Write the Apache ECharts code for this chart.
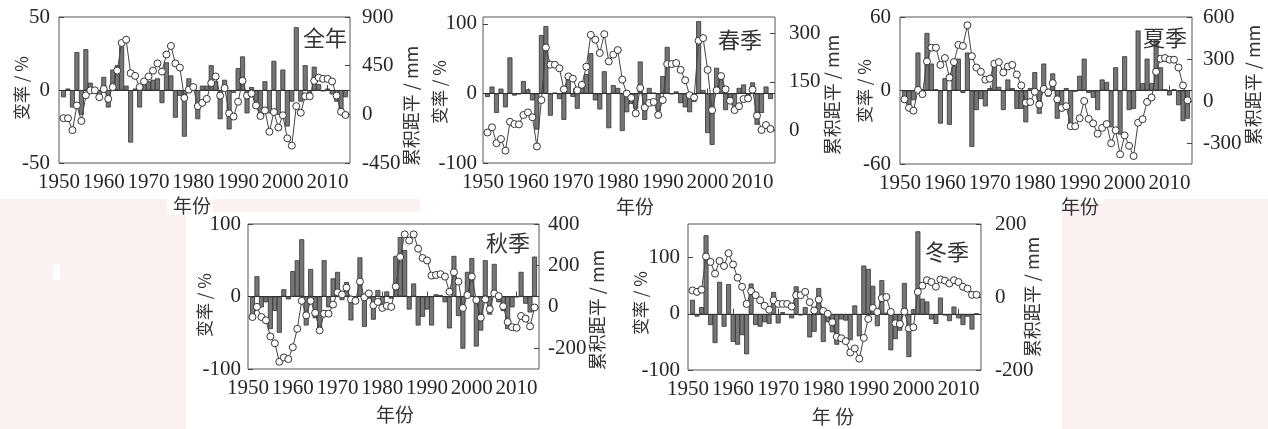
<!DOCTYPE html>
<html><head><meta charset="utf-8">
<script src="https://cdn.jsdelivr.net/npm/echarts@6/dist/echarts.min.js"></script>
<style>html,body{margin:0;padding:0;background:#fff}#c{width:1268px;height:429px}</style>
</head><body><div id="c"></div>
<script>
const years = [1951,1952,1953,1954,1955,1956,1957,1958,1959,1960,
1961,1962,1963,1964,1965,1966,1967,1968,1969,1970,
1971,1972,1973,1974,1975,1976,1977,1978,1979,1980,
1981,1982,1983,1984,1985,1986,1987,1988,1989,1990,
1991,1992,1993,1994,1995,1996,1997,1998,1999,2000,
2001,2002,2003,2004,2005,2006,2007,2008,2009,2010,
2011,2012,2013,2014];
const yearTicks = [1950,1960,1970,1980,1990,2000,2010];

// 全年
const annualRate = [-5,1,-12,26,-17,28,5,-2,-4,9,
 -12,14,17,30,3,-36,1,-12,5,6,
 7,8,-9,19,10,-19,-4,-32,8,2,
 -20,3,3,17,6,-20,7,-27,-2,15,
 23,-16,2,-8,-18,6,-16,20,-17,14,
 -25,-8,43,-8,17,-2,16,4,-1,1,
 -3,-8,-15,-5];
const annualCum = [-36,-36,-146,82,-61,176,222,222,158,234,
 143,252,404,660,690,380,356,252,304,350,
 404,471,395,553,632,471,432,152,228,252,
 76,106,143,289,350,173,243,9,-21,116,
 310,173,192,82,-15,36,-161,21,-122,-9,
 -222,-289,76,15,167,167,310,340,328,328,
 304,173,24,-6];
// 春季
const springRate = [-5,10,-28,7,-20,52,-3,-1,18,6,
 -10,-52,84,97,-32,1,-8,-38,22,-5,
 -22,10,28,58,-10,-23,32,-50,12,8,
 -54,-27,-15,-22,46,-38,8,1,-26,25,
 67,-1,3,-14,-20,-27,-12,104,5,-57,
 -74,37,27,-24,-12,-18,8,13,-4,16,
 -45,-28,10,-8];
const springCum = [-6,10,-39,-26,-62,27,20,19,48,56,
 41,-49,94,256,203,203,192,127,167,160,
 124,141,197,295,280,239,297,213,234,248,
 157,114,101,53,131,71,85,88,48,94,
 205,205,208,187,155,109,102,277,285,187,
 63,124,168,127,92,63,75,97,99,126,
 46,2,17,5];
// 夏季
const summerRate = [-6,-12,-8,31,1,47,22,1,-27,10,
 -28,20,26,-2,31,-46,-16,-7,-13,2,
 20,3,-16,9,2,-15,-15,-26,2,15,
 -19,22,-5,14,-23,-17,2,-28,-1,12,
 26,-2,-6,-16,9,7,-30,19,-36,28,
 -16,-15,49,6,26,6,42,19,1,-4,
 1,-12,-25,-23];
const summerCum = [12,-49,-69,79,49,283,381,381,258,307,
 167,278,401,393,541,320,239,209,152,160,
 266,278,204,246,258,189,111,-12,-7,66,
 -25,86,61,128,12,-49,-37,-180,-180,-123,
 0,-128,-160,-234,-192,-165,-302,-209,-381,-246,
 -320,-393,-155,-130,-7,25,209,302,307,295,
 295,239,111,5];
// 秋季
const autumnRate = [-27,28,-15,-8,-45,-20,-50,10,-4,35,
 50,79,-40,38,-30,-44,50,-15,25,34,
 -5,20,-33,-8,54,-42,-3,-32,9,-10,
 7,-3,56,82,64,-18,18,-40,-28,-18,
 -40,3,2,-8,-44,56,-27,-72,34,53,
 -69,-47,50,-25,45,-8,-20,-45,-15,-1,
 34,-10,-22,55];
const autumnCum = [-49,0,-49,-65,-143,-176,-265,-244,-252,-195,
 -106,29,-41,29,-29,-114,-33,-33,11,70,
 60,93,36,29,122,46,65,8,24,-5,
 5,0,98,241,350,320,350,281,236,224,
 151,154,158,146,73,167,122,-5,57,146,
 33,-52,36,-11,65,52,3,-73,-98,-101,
 -44,-57,-94,-3];
// 冬季
const winterRate = [25,-5,12,140,-20,-52,57,-23,53,-50,
 -55,-38,-72,54,-20,-23,-15,-18,39,-17,
 3,-2,-8,49,-3,12,-42,-32,46,-50,
 -15,-33,-55,-10,-12,-47,15,-40,86,80,
 50,-22,60,2,-65,-45,-30,55,-77,8,
 147,27,22,-10,-18,29,-3,-13,13,-8,
 -20,-5,-28,0];
const winterCum = [18,14,20,111,96,64,99,85,120,89,
 53,28,-19,16,5,-9,-24,-35,-9,-19,
 -19,-19,-26,5,5,14,-14,-37,-7,-38,
 -46,-69,-109,-113,-121,-152,-141,-169,-112,-60,
 -30,-41,-3,0,-41,-72,-74,-40,-86,-83,
 14,31,46,41,28,48,45,37,46,41,
 28,23,6,6];

const titles = ['全年','春季','夏季','秋季','冬季'];
const leftTicks = [[-50,0,50],[-100,0,100],[-60,0,60],[-100,0,100],[-100,0,100]];
const rightTicks = [[-450,0,450,900],[0,150,300],[-300,0,300,600],[-200,0,200,400],[-200,0,200]];
const leftRange = [[-50,50],[-100,110],[-60,60],[-100,100],[-100,160]];
const rightRange = [[-450,900],[-100,350],[-450,600],[-300,400],[-200,200]];
const rateSeries = [annualRate,springRate,summerRate,autumnRate,winterRate];
const cumSeries = [annualCum,springCum,summerCum,autumnCum,winterCum];

// layout (pixels)
const layout = [
 {g:[59,17,291,146], t:[325,38], yl:[22,88], yr:[411,106], xn:[192,206], lm:9, rm:12},
 {g:[483,17,292,146], t:[740,40], yl:[440,92], yr:[832,95], xn:[635,207], lm:6, rm:14},
 {g:[900,17,292,147], t:[1165,38], yl:[865,91], yr:[1253,85], xn:[1080,207], lm:9, rm:11},
 {g:[248,224,291,145], t:[508,243], yl:[205,305], yr:[597,310], xn:[395,415], lm:7, rm:9},
 {g:[688,224,293,146], t:[947,252], yl:[641,303], yr:[1032,297], xn:[833,417], lm:8, rm:14}
];
const serif = "'Liberation Serif','Times New Roman',serif";
const cjk = "'Noto Sans CJK SC','Noto Sans',sans-serif";
const txt = '#262626';
const plain = v => String(v);

const grids=[], xAxes=[], yAxes=[], series=[];
const graphics = [
 {type:'rect', z:-10, shape:{x:0,y:199,width:186,height:230}, style:{fill:'#fbf1f1'}},
 {type:'rect', z:-10, shape:{x:186,y:199,width:234,height:13}, style:{fill:'#fbf1f1'}},
 {type:'rect', z:-9, shape:{x:167,y:197,width:46,height:18}, style:{fill:'#ffffff'}},
 {type:'rect', z:-9, shape:{x:53,y:265,width:7,height:15}, style:{fill:'#ffffff'}},
 {type:'rect', z:-10, shape:{x:1062,y:203,width:206,height:226}, style:{fill:'#fbf1f1'}},
 {type:'rect', z:-10, shape:{x:1103,y:199,width:165,height:6}, style:{fill:'#fbf1f1'}}
];

layout.forEach((L,i)=>{
  grids.push({left:L.g[0], top:L.g[1], width:L.g[2], height:L.g[3], show:true, borderColor:'#555', borderWidth:1, backgroundColor:'transparent'});
  xAxes.push({type:'value', gridIndex:i, min:1950, max:2015, interval:10,
    axisLine:{show:false}, splitLine:{show:false},
    axisTick:{show:true, inside:true, length:5, lineStyle:{color:'#444'}, customValues:[1960,1970,1980,1990,2000,2010]},
    axisLabel:{customValues:yearTicks, formatter:plain, hideOverlap:false, fontFamily:serif, fontSize:21, color:txt, margin:9}});
  yAxes.push({type:'value', gridIndex:i, position:'left', min:leftRange[i][0], max:leftRange[i][1],
    axisLine:{show:false}, splitLine:{show:false},
    axisTick:{show:true, inside:true, length:5, lineStyle:{color:'#444'}, customValues:leftTicks[i]},
    axisLabel:{customValues:leftTicks[i], formatter:plain, fontFamily:serif, fontSize:21, color:txt, margin:L.lm}});
  yAxes.push({type:'value', gridIndex:i, position:'right', min:rightRange[i][0], max:rightRange[i][1],
    axisLine:{show:false}, splitLine:{show:false},
    axisTick:{show:true, inside:true, length:5, lineStyle:{color:'#444'}, customValues:rightTicks[i]},
    axisLabel:{customValues:rightTicks[i], formatter:plain, fontFamily:serif, fontSize:21, color:txt, margin:L.rm}});
  series.push({type:'bar', name:titles[i]+'变率', xAxisIndex:i, yAxisIndex:2*i,
    data: years.map((y,k)=>[y, rateSeries[i][k]]), barWidth:5,
    itemStyle:{color:'#767676', borderColor:'#333', borderWidth:0.8},
    markLine:{silent:true, symbol:['none','none'], label:{show:false}, lineStyle:{color:'#333', type:'solid', width:1}, data:[{yAxis:0}]},
    z:2});
  series.push({type:'line', name:titles[i]+'累积距平', xAxisIndex:i, yAxisIndex:2*i+1,
    data: years.map((y,k)=>[y, cumSeries[i][k]]), symbol:'circle', symbolSize:7, showAllSymbol:true,
    lineStyle:{color:'#444', width:1}, itemStyle:{color:'#fff', borderColor:'#333', borderWidth:1}, z:5});
  graphics.push({type:'text', z:100, x:L.t[0], y:L.t[1], style:{text:titles[i], font:'22px '+cjk, fill:'#333', align:'center', verticalAlign:'middle', textAlign:'center', textVerticalAlign:'middle'}});
  graphics.push({type:'text', z:100, x:L.yl[0], y:L.yl[1], rotation:Math.PI/2, style:{text:'变率 / %', font:'17px '+cjk, fill:'#333', align:'center', verticalAlign:'middle', textAlign:'center', textVerticalAlign:'middle'}});
  graphics.push({type:'text', z:100, x:L.yr[0], y:L.yr[1], rotation:Math.PI/2, style:{text:'累积距平 / mm', font:'18px '+cjk, fill:'#333', align:'center', verticalAlign:'middle', textAlign:'center', textVerticalAlign:'middle'}});
  graphics.push({type:'text', z:100, x:L.xn[0], y:L.xn[1], style:{text: i===4 ? '年 份' : '年份', font:'19px '+cjk, fill:'#333', align:'center', verticalAlign:'middle', textAlign:'center', textVerticalAlign:'middle'}});
});

const chart = echarts.init(document.getElementById('c'), null, {renderer:'canvas'});
chart.setOption({animation:false, backgroundColor:'#ffffff', grid:grids, xAxis:xAxes, yAxis:yAxes, series:series, graphic:{elements:graphics}});
</script></body></html>
